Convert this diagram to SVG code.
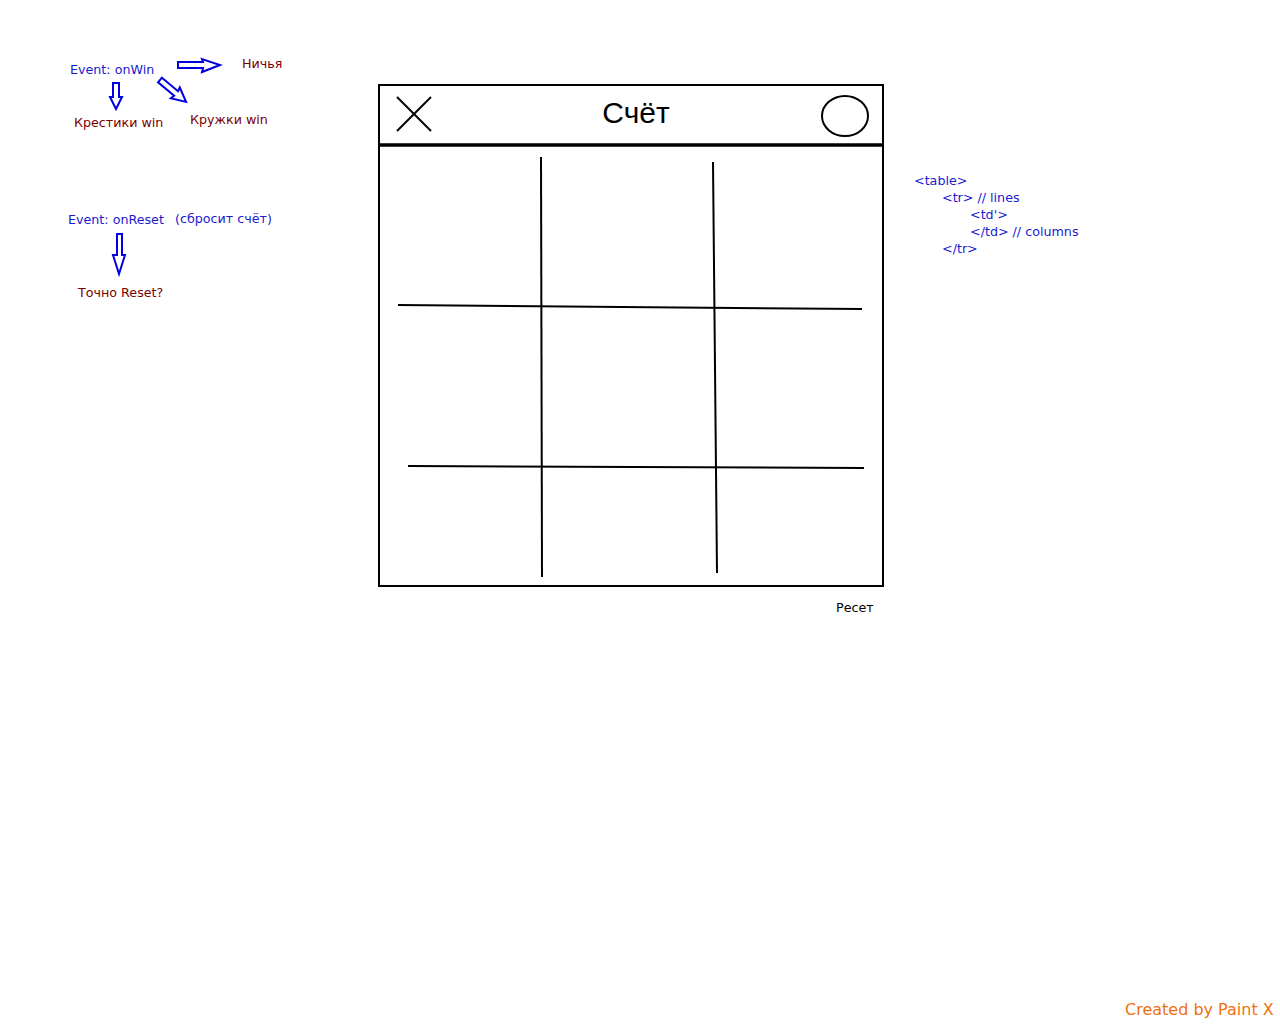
<svg xmlns="http://www.w3.org/2000/svg" width="1280" height="1024" viewBox="0 0 1280 1024">
<style>
.t{font-family:"DejaVu Sans",Verdana,sans-serif;font-size:12.7px}
.blue{fill:#1a1ad0}
.red{fill:#7a0000}
.arr{fill:none;stroke:#0000e0;stroke-width:2;stroke-linejoin:miter}
.ln{stroke:#000;stroke-width:2;fill:none}
</style>
<rect width="1280" height="1024" fill="#fff"/>
<g id="notes-win">
<text class="t blue" x="70" y="74">Event: onWin</text>
<text class="t red" x="242" y="68">Ничья</text>
<text class="t red" x="74" y="127">Крестики win</text>
<text class="t red" x="190" y="124">Кружки win</text>
</g>
<g id="notes-reset">
<text class="t blue" x="68" y="224">Event: onReset</text>
<text class="t blue" x="175" y="223">(сбросит счёт)</text>
<text class="t red" x="78" y="297">Точно Reset?</text>
</g>
<g id="connectors">
<polygon class="arr" points="178,62 203,62 202,59 220,65 202,72 203,68 178,68"/>
<polygon class="arr" points="113,83 119,83 119,97 122,97 116,109 110,97 113,97"/>
<g transform="translate(160,80) rotate(40)"><polygon class="arr" points="0,-3 21,-3 20,-7 34,0 20,7 21,3 0,3"/></g>
<polygon class="arr" points="117,234 122,234 122,255 125,255 119,274 113,255 117,255"/>
</g>
<g id="board">
<rect x="379" y="85" width="504" height="501" fill="#fff" stroke="#000" stroke-width="2"/>
<line x1="379" y1="145" x2="883" y2="145" stroke="#000" stroke-width="3.5"/>
<line class="ln" x1="397" y1="97" x2="431" y2="131"/>
<line class="ln" x1="397" y1="131" x2="431" y2="97"/>
<ellipse cx="845" cy="116" rx="23" ry="20" fill="none" stroke="#000" stroke-width="2"/>
<text x="636" y="123" text-anchor="middle" font-family="Liberation Sans,Arial,sans-serif" font-size="30">Счёт</text>
<line class="ln" x1="541" y1="157" x2="542" y2="577"/>
<line class="ln" x1="713" y1="162" x2="717" y2="573"/>
<line class="ln" x1="398" y1="305" x2="862" y2="309"/>
<line class="ln" x1="408" y1="466" x2="864" y2="468"/>
<text class="t" x="836" y="612" fill="#000">Ресет</text>
</g>
<g id="code-note" class="t blue">
<text x="914" y="185">&lt;table&gt;</text>
<text x="942" y="202">&lt;tr&gt; // lines</text>
<text x="970" y="219">&lt;td'&gt;</text>
<text x="970" y="236">&lt;/td&gt; // columns</text>
<text x="942" y="253">&lt;/tr&gt;</text>
</g>
<text x="1125" y="1015" font-family="DejaVu Sans,Verdana,sans-serif" font-size="16" fill="#f07010">Created by Paint X</text>
</svg>
